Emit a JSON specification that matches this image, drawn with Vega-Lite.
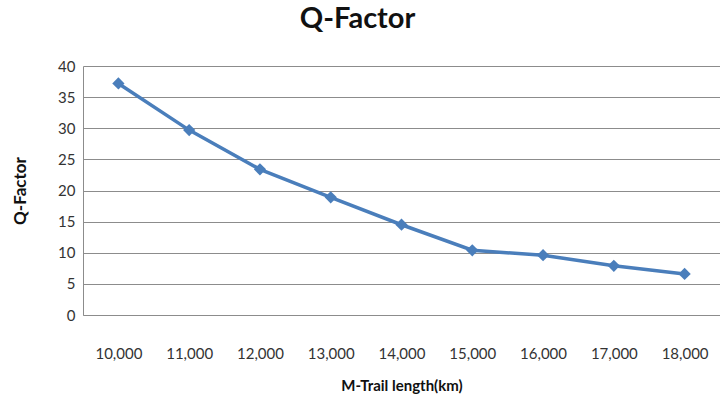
{
  "$schema": "https://vega.github.io/schema/vega-lite/v6.json",
  "autosize": {"type": "none"},
  "padding": {"left": 83, "top": 66, "right": 0, "bottom": 86},
  "width": 637,
  "height": 249,
  "background": "white",
  "title": {
    "text": "Q-Factor",
    "font": "Lato",
    "fontSize": 29,
    "fontWeight": "bold",
    "color": "#111111",
    "anchor": "middle",
    "dx": -44,
    "offset": 25
  },
  "data": {
    "values": [
      {"length": "10,000", "q": 37.2},
      {"length": "11,000", "q": 29.7},
      {"length": "12,000", "q": 23.4},
      {"length": "13,000", "q": 18.9},
      {"length": "14,000", "q": 14.5},
      {"length": "15,000", "q": 10.4},
      {"length": "16,000", "q": 9.6},
      {"length": "17,000", "q": 7.9},
      {"length": "18,000", "q": 6.6}
    ]
  },
  "config": {
    "view": {"stroke": null},
    "axis": {
      "labelFont": "Lato",
      "titleFont": "Lato",
      "labelColor": "#333333",
      "titleColor": "#111111"
    }
  },
  "encoding": {
    "x": {
      "field": "length",
      "type": "ordinal",
      "sort": null,
      "scale": {"paddingInner": 0, "paddingOuter": 0},
      "axis": {
        "title": "M-Trail length(km)",
        "titleFontSize": 15,
        "titleFontWeight": "bold",
        "titlePadding": 17,
        "labelAngle": 0,
        "labelFontSize": 15,
        "labelPadding": 31,
        "ticks": false,
        "domainColor": "#8c8c8c",
        "grid": false
      }
    },
    "y": {
      "field": "q",
      "type": "quantitative",
      "scale": {"domain": [0, 40], "nice": false},
      "axis": {
        "title": "Q-Factor",
        "titleFontSize": 17,
        "titleFontWeight": "bold",
        "titlePadding": 28,
        "values": [0, 5, 10, 15, 20, 25, 30, 35, 40],
        "labelFontSize": 15,
        "labelPadding": 8,
        "ticks": false,
        "domainColor": "#8c8c8c",
        "grid": true,
        "gridColor": "#8c8c8c",
        "gridWidth": 1
      }
    }
  },
  "layer": [
    {
      "mark": {"type": "line", "color": "#4a7ebb", "strokeWidth": 3.5}
    },
    {
      "mark": {"type": "point", "shape": "diamond", "filled": true, "color": "#4a7ebb", "size": 150, "opacity": 1}
    }
  ]
}
